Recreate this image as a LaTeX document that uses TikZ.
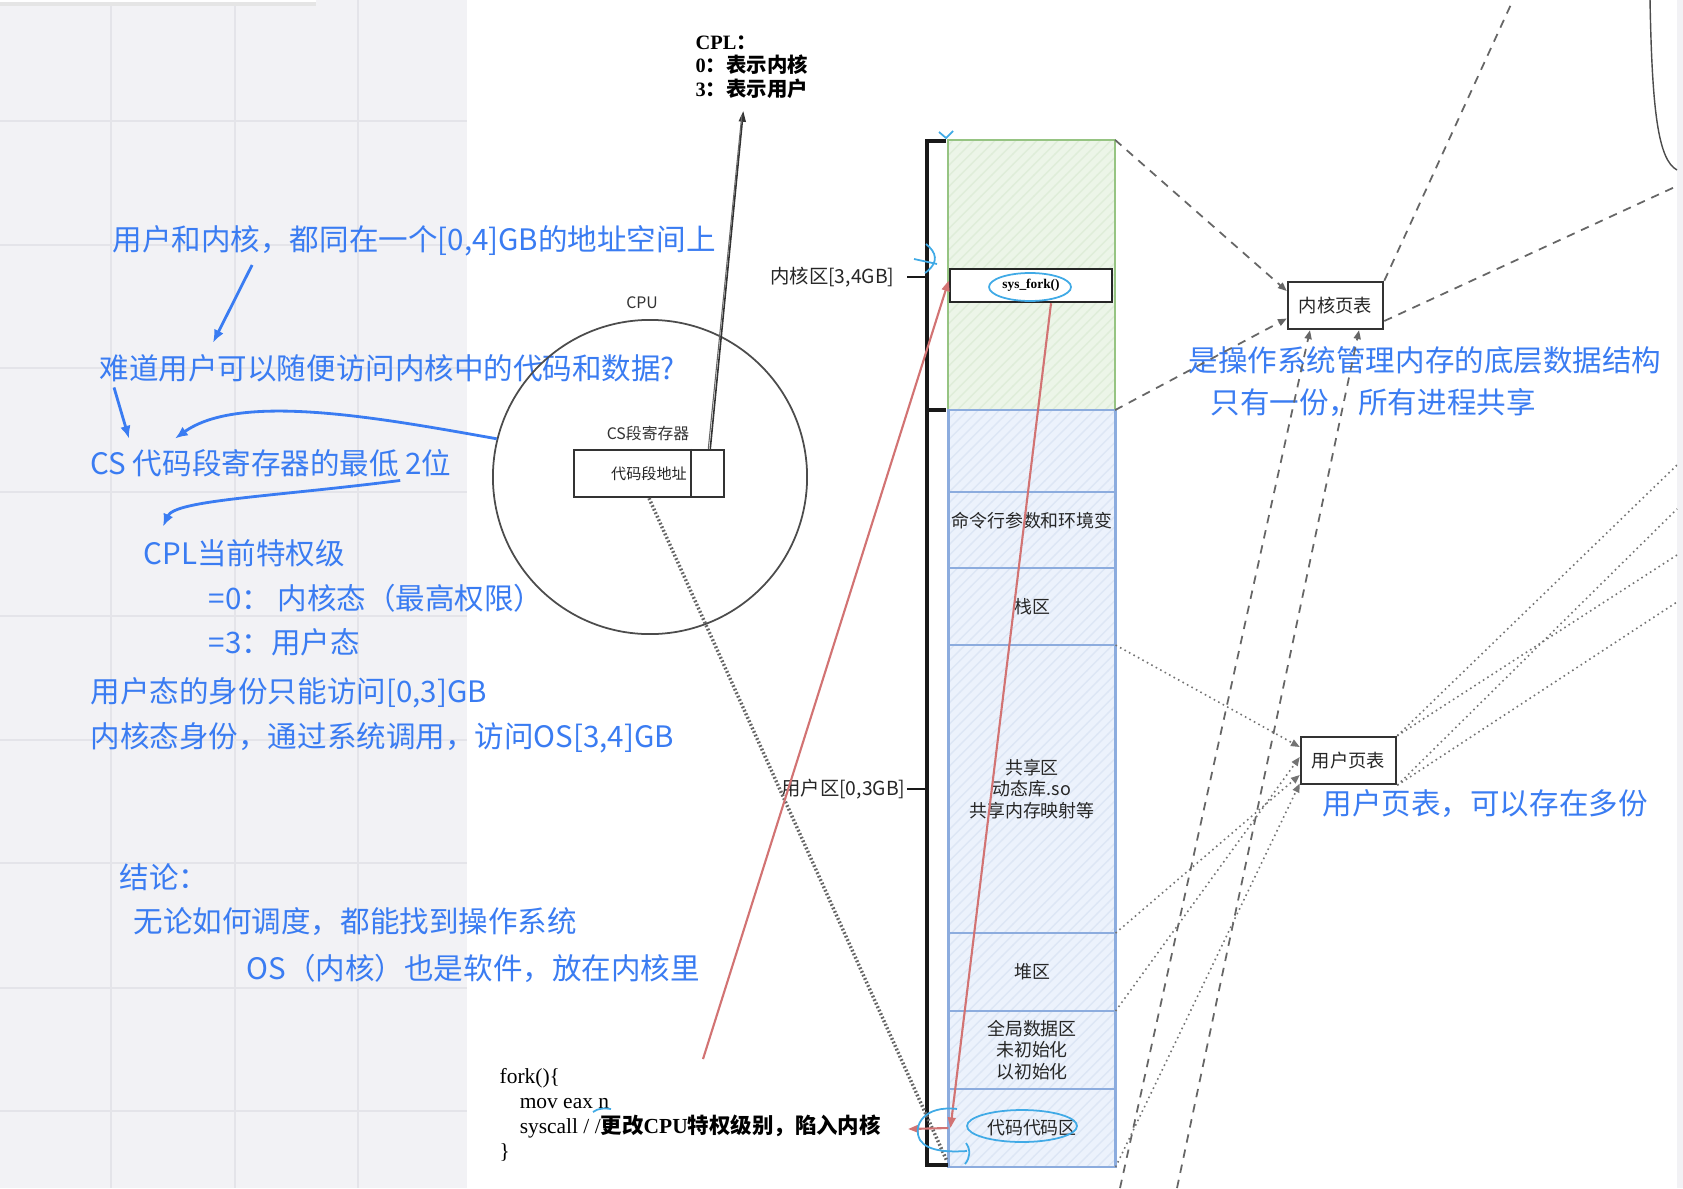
\documentclass[tikz,border=0pt]{standalone}
\usepackage{fontspec}
\usepackage{tikz}
\usetikzlibrary{shapes,calc,patterns}
\usetikzlibrary{arrows.meta}
\setmainfont{Liberation Serif}
\newfontfamily\cjk{Noto Sans CJK SC}

\definecolor{noteblue}{RGB}{58,124,242}
\definecolor{sketchblue}{RGB}{64,170,230}
\definecolor{redline}{RGB}{210,115,115}
\definecolor{kfill}{RGB}{236,245,232}
\definecolor{kdraw}{RGB}{150,196,130}
\definecolor{ufill}{RGB}{236,242,252}
\definecolor{udraw}{RGB}{140,172,222}
\definecolor{boardgray}{RGB}{242,242,245}
\definecolor{gridgray}{RGB}{228,228,233}

\tikzset{
	note/.style={anchor=west,inner sep=0,text=noteblue,font=\cjk\fontsize{8.4}{10}\selectfont},
	bluearrow/.style={noteblue,line width=0.8pt,-{Latex[length=3.6pt,width=3pt]}},
	redarrow/.style={redline,line width=0.6pt,-{Triangle[length=3pt,width=2.2pt]}},
	ink/.style={sketchblue,line width=0.5pt},
	sketch/.style={inner sep=0,text=black!80,font=\cjk\fontsize{4.5}{5.4}\selectfont},
	zone/.style={anchor=east,inner sep=0,text=black!85,font=\cjk\fontsize{5.5}{6.5}\selectfont},
	kblk/.style={preaction={fill=kfill},pattern=north east lines,pattern color=kdraw!30,draw=kdraw,
		minimum width=1.67cm,inner sep=0,outer sep=0,line width=0.7pt},
	ublk/.style={preaction={fill=ufill},pattern=north east lines,pattern color=udraw!30,draw=udraw,
		minimum width=1.67cm,inner sep=0,outer sep=0,line width=0.7pt,align=center,
		text=black!85,font=\cjk\fontsize{5.1}{6.1}\selectfont},
	ptbox/.style={draw=black!80,fill=white,line width=0.7pt,minimum width=0.95cm,minimum height=0.47cm,
		inner sep=0,text=black!85,font=\cjk\fontsize{5.2}{6}\selectfont},
	pgdash/.style={black!60,line width=0.5pt,dash pattern=on 2.4pt off 2pt},
	pgdot/.style={black!55,line width=0.45pt,densely dotted},
	smalltip/.style={-{Triangle[length=2.5pt,width=2pt]}},
	chain/.style={black!60,line width=1pt,dash pattern=on 0.5pt off 0.6pt}
}

\begin{document}
\begin{tikzpicture}[x=0.01cm,y=-0.01cm]
	% Board
	\useasboundingbox (0,0) rectangle (1683,1188);
	\fill[white] (0,0) rectangle (1683,1188);
	\fill[boardgray] (0,0) rectangle (467,1188);
	\fill[boardgray] (1677,0) rectangle (1683,1188);
	\foreach \x in {111,235,358} {
			\draw[gridgray,line width=0.5pt] (\x,0) -- (\x,1188);
		}
	\foreach \y in {121,245,368,492,616,740,863,988,1111} {
			\draw[gridgray,line width=0.5pt] (0,\y) -- (467,\y);
		}
	\fill[white] (0,0) rectangle (316,3);
	\draw[black!10,line width=1pt] (0,4) -- (316,4);
	\draw[black!70,line width=0.4pt] (1650,0) .. controls (1652,110) and (1658,160) .. (1677,170);

	% Notes
	\node[note] (share) at (112,241) {用户和内核，都同在一个[0,4]GB的地址空间上};
	\node[note] (ask) at (99,368) {难道用户可以随便访问内核中的代码和数据?};
	\node[note] (cs) at (90,463) {CS 代码段寄存器的最低 2位};
	\node[note] (privlvl) at (143,553) {CPL当前特权级};
	\node[note] (ring0) at (208,598) {=0： 内核态（最高权限）};
	\node[note] (ring3) at (208,642) {=3：用户态};
	\node[note] (ulimit) at (90,693) {用户态的身份只能访问[0,3]GB};
	\node[note] (klimit) at (90,738) {内核态身份，通过系统调用，访问OS[3,4]GB};
	\node[note] (concl) at (119,877) {结论：};
	\node[note] (conclA) at (133,922) {无论如何调度，都能找到操作系统};
	\node[note] (conclB) at (246,968) {OS（内核）也是软件，放在内核里};
	\node[note] (kptA) at (1188,360) {是操作系统管理内存的底层数据结构};
	\node[note] (kptB) at (1210,403) {只有一份，所有进程共享};
	\node[note] (uptA) at (1322,804) {用户页表，可以存在多份};

	% CPU
	\node[circle,draw=black!70,line width=0.5pt,minimum size=3.14cm,inner sep=0] (cpu) at (650,477) {};
	\node[sketch] (cpulbl) at (642,303) {CPU};
	\node[sketch] (cslbl) at (648,433) {CS段寄存器};
	\node[draw=black!80,line width=0.7pt,fill=white,minimum width=1.5cm,minimum height=0.47cm,inner sep=0,
		text=black!85,font=\cjk\fontsize{4.3}{5}\selectfont] (reg) at (649,473.5) {代码段地址};
	\draw[black!80,line width=0.6pt] ([xshift=-0.34cm]reg.north east) -- ([xshift=-0.34cm]reg.south east);
	\node[anchor=west,align=left,inner sep=0,font=\bfseries\fontsize{5.8}{6.7}\selectfont] (cplnote) at (695,67)
		{CPL{\cjk ：}\\0{\cjk ：表示内核}\\3{\cjk ：表示用户}};

	% Blue arrows
	\draw[bluearrow] ([xshift=1.40cm,yshift=-0.08cm]share.south west) -- ([xshift=1.14cm,yshift=0.11cm]ask.north west);
	\draw[bluearrow] ([xshift=0.15cm,yshift=-0.05cm]ask.south west) -- ([xshift=0.39cm,yshift=0.10cm]cs.north west);
	\draw[bluearrow] (cpu.166) .. controls (380,418) and (240,392) .. ([xshift=0.85cm,yshift=0.10cm]cs.north west);
	\draw[bluearrow] ([xshift=3.10cm,yshift=-0.03cm]cs.south west) .. controls (270,497) and (175,500) .. ([xshift=0.20cm,yshift=0.12cm]privlvl.north west);

	% Memory column
	\node[kblk,minimum height=2.70cm] (kern) at (1031.5,275) {};
	\foreach \n/\c/\h/\t in {utop/451/0.82cm/{}, args/530/0.76cm/{\raisebox{6pt}{命令行参数和环境变}},
			stack/606.5/0.77cm/{栈区}, shared/789/2.88cm/{共享区\\动态库.so\\共享内存映射等},
			heap/972/0.78cm/{堆区}, data/1050/0.78cm/{全局数据区\\未初始化\\以初始化},
			code/1128/0.78cm/{代码代码区}} {
			\node[ublk,minimum height=\h] (\n) at (1032,\c) {\t};
		}
	\node[draw=black!85,fill=white,line width=0.7pt,minimum width=1.62cm,minimum height=0.33cm,inner sep=0,
		font=\bfseries\fontsize{3.8}{4.5}\selectfont] (sysfork) at (1031,285.5) {sys\_fork()};

	% Bracket
	\draw[black!90,line width=1pt] (946,141) -- (927,141) -- (927,1165) -- (948,1165);
	\draw[black!90,line width=1.3pt] (927,410) -- (946,410);
	\draw[black!90,line width=0.8pt] (907,277) -- (927,277);
	\draw[black!90,line width=0.8pt] (907,789) -- (927,789);
	\node[zone] (kzone) at (895,277) {内核区[3,4GB]};
	\node[zone] (uzone) at (906,789) {用户区[0,3GB]};

	% Code
	\node[anchor=west,align=left,inner sep=0,font=\fontsize{6.1}{7.1}\selectfont] (forkcode) at (499,1115)
		{fork()\{\\\hspace*{5.7pt}mov eax n\\\hspace*{5.7pt}syscall / /{\bfseries\cjk 更改}{\bfseries CPU}{\bfseries\cjk 特权级别，陷入内核}\\\}};

	% Links
	\draw[black!80,line width=0.45pt,-{Triangle[length=3pt,width=2pt]}] ([xshift=-0.15cm]reg.north east) -- ([xshift=-0.085cm,yshift=-0.12cm]cplnote.south);
	\draw[black!60,line width=0.3pt] ([xshift=-0.17cm]reg.north east) -- ([xshift=-0.10cm,yshift=-0.16cm]cplnote.south);
	\draw[chain] (reg.south) -- ([xshift=-0.02cm,yshift=0.07cm]code.south west);
	\coordinate (redtail) at (703,1059);
	\coordinate (trap) at (908,1129);
	\draw[redarrow] (redtail) -- ([yshift=0.05cm]sysfork.west);
	\draw[redarrow] ([xshift=0.2cm]sysfork.south) -- ([xshift=0.02cm]code.west);
	\draw[redarrow] (code.west) -- (trap);

	% Page tables
	\node[ptbox] (kpt) at (1335.5,305.5) {内核页表};
	\node[ptbox] (upt) at (1348.5,760.5) {用户页表};
	\coordinate (ka) at (1120,1188);
	\coordinate (kb) at (1177,1188);
	\coordinate (kout1) at (1513,0);
	\coordinate (kout2) at (1677,186);
	\draw[pgdash,smalltip] (kern.north east) -- ([yshift=0.145cm]kpt.west);
	\draw[pgdash,smalltip] (kern.south east) -- ([yshift=-0.13cm]kpt.west);
	\draw[pgdash,smalltip] (ka) -- ([xshift=-0.255cm]kpt.south);
	\draw[pgdash,smalltip] (kb) -- ([xshift=0.235cm]kpt.south);
	\draw[pgdash] (kpt.north east) -- (kout1);
	\draw[pgdash] ([yshift=-0.155cm]kpt.east) -- (kout2);
	\draw[pgdot,smalltip] (stack.south east) -- ([yshift=0.135cm]upt.west);
	\draw[pgdot,smalltip] (heap.south east) -- ([yshift=0.035cm]upt.west);
	\draw[pgdot,smalltip] (shared.south east) -- ([yshift=-0.145cm]upt.west);
	\draw[pgdot,smalltip] (code.south east) -- ([yshift=-0.23cm]upt.west);
	\foreach \A/\P/\y in {A/north east/465, B/south east/509, C/north east/555, D/south east/602} {
			\coordinate (uout\A) at (1677,\y);
			\draw[pgdot] (upt.\P) -- (uout\A);
		}

	% Pen marks
	\draw[ink] (1030,287) ellipse [x radius=41,y radius=14];
	\draw[ink] (1022,1126) ellipse [x radius=55,y radius=16];
	\draw[ink] (926,244) .. controls (936,252) and (940,262) .. (925,273);
	\draw[ink] (914,259) -- (937,264);
	\draw[ink] (939,132) -- (946,138) -- (953,131);
	\draw[ink] (957,1109) .. controls (925,1105) and (912,1125) .. (920,1140) .. controls (928,1152) and (950,1152) .. (967,1151);
	\draw[ink] (966,1143) .. controls (971,1150) and (970,1158) .. (965,1164);
	\draw[ink] (593,1112) .. controls (598,1108) and (605,1108) .. (611,1109);
\end{tikzpicture}
\end{document}
